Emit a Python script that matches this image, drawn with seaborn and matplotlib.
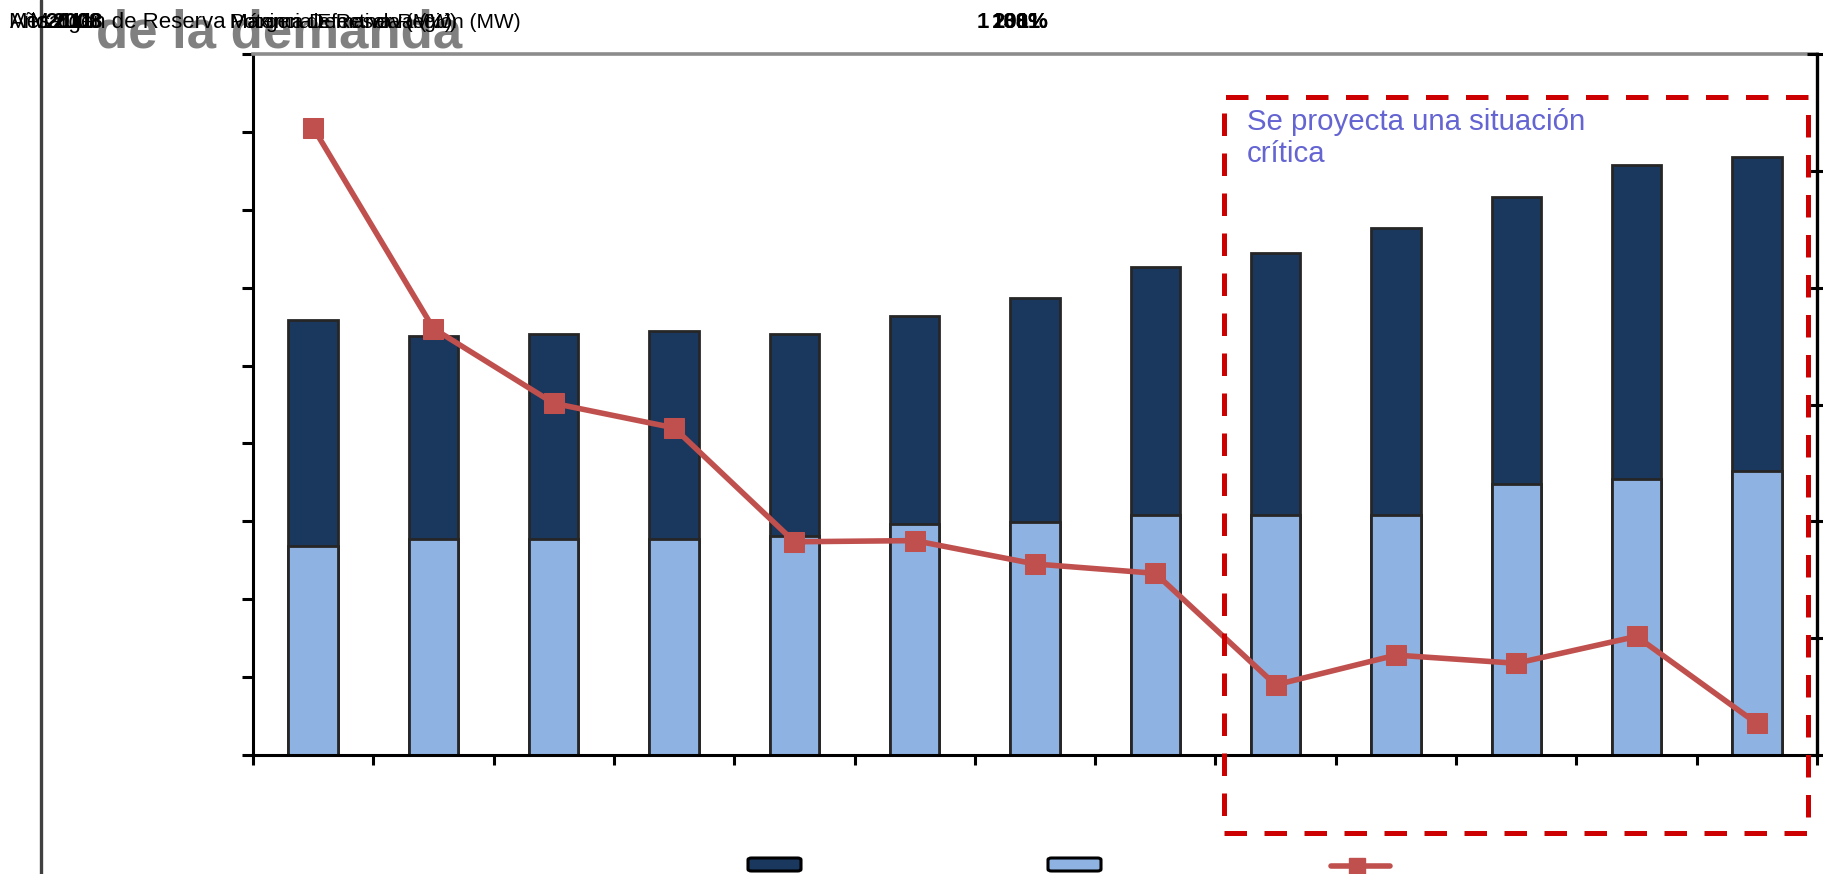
import numpy as np
import pandas as pd
import matplotlib
matplotlib.use("Agg")
import matplotlib.pyplot as plt
import seaborn as sns
from matplotlib.patches import Rectangle, FancyBboxPatch
from matplotlib.lines import Line2D

sns.set_theme(style="white")
plt.rcParams['font.family'] = ['Liberation Sans', 'DejaVu Sans']

# ---- data ----
years = ["2006", "2007", "2008", "2009", "2010", "2011", "2012",
         "2013", "2014", "2015", "2016", "2017", "2018"]
potencia_efectiva = [2790, 2690, 2705, 2720, 2705, 2820, 2935,
                     3130, 3220, 3385, 3585, 3790, 3840]
maxima_demanda = [1340, 1385, 1385, 1385, 1405, 1480, 1495,
                  1540, 1540, 1540, 1740, 1770, 1825]
margen_reserva = [107.4, 73.0, 60.2, 56.0, 36.5, 36.7, 32.7,
                  31.1, 12.0, 17.1, 15.7, 20.3, 5.4]

df = pd.DataFrame({"year": years, "pe": potencia_efectiva,
                   "md": maxima_demanda, "mr": margen_reserva,
                   "pos": np.arange(len(years))})

W, H = 1823, 874
fig = plt.figure(figsize=(W / 100, H / 100), dpi=100)
ax = fig.add_axes([253 / W, 1 - 755 / H, (1817 - 253) / W, (755 - 54) / H])

dark = "#1A375E"
light = "#8EB3E3"
red = "#C0504D"

sns.barplot(data=df, x="year", y="pe", color=dark, width=0.41,
            edgecolor="#262626", linewidth=2.0, saturation=1, ax=ax)
sns.barplot(data=df, x="year", y="md", color=light, width=0.41,
            edgecolor="#262626", linewidth=2.0, saturation=1, ax=ax)
ax.set_xlim(-0.5, len(years) - 0.5)
ax.set_ylim(0, 4500)
ax.set_yticks(np.arange(0, 4501, 500))
ax.set_xticks(np.arange(-0.5, len(years), 1))
ax.set_xticklabels([])
ax.set_yticklabels([])
ax.set_xlabel("")
ax.set_ylabel("")
ax.tick_params(axis="y", direction="out", length=8, width=2.2, color="black", left=True)
ax.tick_params(axis="x", direction="out", length=7, width=2.2, color="black", bottom=True)
for s in ["left", "bottom"]:
    ax.spines[s].set_color("black")
    ax.spines[s].set_linewidth(2.2)
ax.spines["top"].set_color("#8C8C8C")
ax.spines["top"].set_linewidth(2.6)
ax.spines["right"].set_visible(False)

ax2 = ax.twinx()
sns.lineplot(data=df, x="pos", y="mr", color=red, linewidth=4.0, marker="s",
             markersize=15, markeredgecolor=red, markerfacecolor=red, ax=ax2)
ax2.set_ylim(0, 120)
ax2.set_yticks(np.arange(0, 121, 20))
ax2.set_yticklabels([])
ax2.set_ylabel("")
ax2.set_xlabel("")
ax2.tick_params(axis="y", direction="inout", length=14, width=2.2, color="black", right=True)
for s in ["left", "top", "bottom"]:
    ax2.spines[s].set_visible(False)
ax2.spines["right"].set_color("black")
ax2.spines["right"].set_linewidth(2.4)

# dashed highlight box
box = Rectangle((0.621, -0.111), 0.994 - 0.621, 0.9385 + 0.111,
                transform=ax2.transAxes, fill=False, edgecolor="#CC0000",
                linewidth=3.6, linestyle=(0, (4.5, 3.5)), clip_on=False, zorder=10)
ax2.add_patch(box)
fig.text(1247 / W, 1 - 108 / H, "Se proyecta una situación\ncrítica",
         color="#6464D2", fontsize=21.2, ha="left", va="top", linespacing=1.2)

# left vertical rule
fig.add_artist(Line2D([41 / W, 41 / W], [0, 1], color="#404040", linewidth=2.4))

# overlapping header texts
fig.text(96 / W, 1 - 48 / H, "de la demanda", fontsize=38, fontweight="bold",
         color="#808080", ha="left", va="baseline")
fig.text(8 / W, 1 - 28 / H, "Mes", fontsize=16, color="black", va="baseline")
fig.text(10 / W, 1 - 28 / H, "Año", fontsize=16, color="black", va="baseline")
fig.text(30 / W, 1 - 28 / H, "Margen de Reserva", fontsize=16, color="black", va="baseline")
for t, xx in [("2011", 45), ("2008", 52), ("1.08", 60)]:
    fig.text(xx / W, 1 - 28 / H, t, fontsize=16, fontweight="bold", color="black", va="baseline")
for t in ["Margen de Reserva (%)", "Potencia Efectiva Región (MW)", "Máxima Demanda (MW)"]:
    fig.text(230 / W, 1 - 28 / H, t, fontsize=15, color="black", va="baseline")
fig.text(977 / W, 1 - 28 / H, "1", fontsize=16, fontweight="bold", color="black", va="baseline")
for t in ["108%", "2011", "130%"]:
    fig.text(992 / W, 1 - 28 / H, t, fontsize=16, fontweight="bold", color="black", va="baseline")

# legend swatches without labels
for x0, col in [(748, dark), (1048, light)]:
    fig.add_artist(FancyBboxPatch((x0 / W, 1 - 871 / H), 53 / W, 13 / H,
                                  boxstyle="round,pad=0,rounding_size=0.002",
                                  transform=fig.transFigure,
                                  facecolor=col, edgecolor="black", linewidth=2.2))
fig.add_artist(Line2D([1331 / W, 1390 / W], [1 - 866 / H, 1 - 866 / H], color=red,
                      linewidth=4.0))
fig.add_artist(Line2D([1357 / W], [1 - 866 / H], color=red, linestyle="none",
                      marker="s", markersize=12, markerfacecolor=red, markeredgecolor=red))

fig.savefig("out.png", dpi=100)
